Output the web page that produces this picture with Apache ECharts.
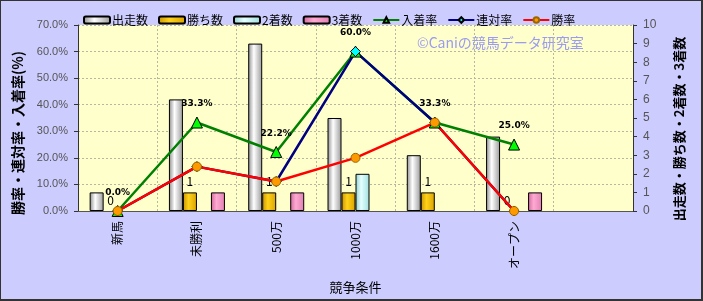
<!DOCTYPE html>
<html><head><meta charset="utf-8">
<script src="https://cdn.jsdelivr.net/npm/echarts@6.0.0/dist/echarts.min.js"></script>
<style>
html,body{margin:0;padding:0;background:#ccccff;}
#wrap{position:absolute;left:0;top:0;width:703px;height:301px;box-sizing:border-box;border-left:1px solid #333;border-top:1px solid #333;border-right:2px solid #333;border-bottom:2px solid #333;}
#c{width:100%;height:100%;}
</style></head>
<body><div id="wrap"><div id="c"></div></div>
<script>
const categories = ['新馬','未勝利','500万','1000万','1600万','オープン',''];
const starts  = [1, 6, 9, 5, 3, 4];
const wins    = [0, 1, 1, 1, 1, 0];
const seconds = [0, 0, 0, 2, 0, 0];
const thirds  = [0, 1, 1, 0, 0, 1];
const placeRate = [0.0, 33.3, 22.2, 60.0, 33.3, 25.0];
const quinellaRate = [0.0, 16.7, 11.1, 60.0, 33.3, 0.0];
const winRate = [0.0, 16.7, 11.1, 20.0, 33.3, 0.0];
const leftTicks = [0,10,20,30,40,50,60,70];

const FONT = '"Noto Sans CJK JP", sans-serif';
function grad(edge, mid, edge2){
  return new echarts.graphic.LinearGradient(0,0,1,0,[
    {offset:0,color:edge},{offset:0.4,color:mid},{offset:1,color:edge2}]);
}
function barSeries(name, data, c1, c2, c3, label){
  return {
    name, type:'bar', yAxisIndex:1,
    data: data.map(v => v === 0 ? {value:0, itemStyle:{borderWidth:0, opacity:0}} : v),
    barWidth:14, barGap:'0%',
    itemStyle:{color:grad(c1,c2,c3), borderColor:'#000', borderWidth:1},
    label: label ? {show:true, position:'top', distance:5, color:'#000', fontSize:12, fontFamily:FONT, opacity:1} : {show:false},
    z:2
  };
}
function lineSeries(name, data, lineColor, symbol, fill, size, label){
  return {
    name, type:'line', yAxisIndex:0, data,
    symbol, symbolSize:size, showAllSymbol:true,
    lineStyle:{color:lineColor, width:2.5},
    itemStyle:{color:fill, borderColor: symbol==='circle' ? '#996600' : '#000', borderWidth:1},
    label: label ? {show:true, position:'top', distance:8, color:'#000', fontSize:9, fontWeight:'bold', fontFamily:'"DejaVu Sans", sans-serif',
      formatter: p => p.value.toFixed(1)+'%'} : {show:false},
    z:5
  };
}
const chart = echarts.init(document.getElementById('c'), null, {renderer:'canvas'});
chart.setOption({
  animation:false,
  backgroundColor:'#ccccff',
  textStyle:{fontFamily:FONT},
  legend:{
    left:77, top:8, itemWidth:26, itemHeight:7, itemGap:10,
    textStyle:{fontSize:12, color:'#000', fontFamily:FONT, padding:[0,0,0,-3]},
    data:['出走数','勝ち数','2着数','3着数','入着率','連対率','勝率']
  },
  grid:{left:77, right:68, top:24, bottom:88, show:true, backgroundColor:'#ffffcc', borderWidth:0},
  graphic:[
    {type:'text', left:416, top:35, style:{text:'©Caniの競馬データ研究室', fill:'#9b9bf0', font:'14px '+FONT}},
    {type:'text', x:17, y:132, rotation:Math.PI/2, style:{text:'勝率・連対率・入着率(%)', fill:'#000', font:'bold 14px '+FONT, textAlign:'center', textVerticalAlign:'middle'}},
    {type:'text', x:678, y:128, rotation:Math.PI/2, style:{text:'出走数・勝ち数・2着数・3着数', fill:'#000', font:'bold 13px '+FONT, textAlign:'center', textVerticalAlign:'middle'}}
  ],
  xAxis:{
    type:'category', data:categories, boundaryGap:true,
    name:'競争条件', nameLocation:'middle', nameGap:70,
    nameTextStyle:{fontSize:13, color:'#000', fontFamily:FONT},
    axisLine:{lineStyle:{color:'#555', width:1}},
    axisTick:{show:false},
    axisLabel:{rotate:90, margin:10, fontSize:12, color:'#000', fontFamily:FONT, interval:0},
    splitLine:{show:true, lineStyle:{color:'#b8b8a0', type:[2,2], width:1}}
  },
  yAxis:[{
    type:'value', min:0, max:70, interval:10, position:'left',
    axisLine:{show:true, lineStyle:{color:'#333'}},
    axisTick:{show:true, length:4, lineStyle:{color:'#333'}},
    axisLabel:{fontSize:11, color:'#555', margin:10, fontFamily:'"Liberation Sans", sans-serif', formatter:v=>v.toFixed(1)+'%'},
    splitLine:{show:true, lineStyle:{color:'#b8b8a0', type:[2,2], width:1}}
  },{
    type:'value', min:0, max:10, interval:1, position:'right',
    axisLine:{show:true, lineStyle:{color:'#333'}},
    axisTick:{show:true, length:4, lineStyle:{color:'#333'}},
    axisLabel:{fontSize:12, color:'#555', margin:10, fontFamily:'"Liberation Sans", sans-serif'},
    splitLine:{show:false}
  }],
  series:[
    barSeries('出走数', starts, '#8c8c8c', '#ffffff', '#9a9a9a', false),
    barSeries('勝ち数', wins, '#c89400', '#ffd21a', '#d9a300', true),
    barSeries('2着数', seconds, '#8fcfcf', '#e6ffff', '#9fdede', false),
    barSeries('3着数', thirds, '#d0679f', '#ffaad2', '#e07fb3', false),
    lineSeries('入着率', placeRate, '#008000', 'triangle', '#00ff00', 11, true),
    lineSeries('連対率', quinellaRate, '#000080', 'diamond', '#00ffff', 10, false),
    lineSeries('勝率', winRate, '#ff0000', 'circle', '#ff9900', 9, false)
  ]
});
</script></body></html>
